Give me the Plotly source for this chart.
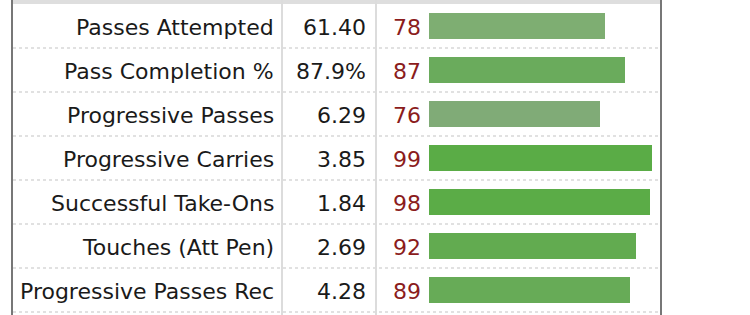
import plotly.graph_objects as go

W, H = 750, 315

stats = ["Passes Attempted", "Pass Completion %", "Progressive Passes",
         "Progressive Carries", "Successful Take-Ons", "Touches (Att Pen)",
         "Progressive Passes Rec"]
per90 = ["61.40", "87.9%", "6.29", "3.85", "1.84", "2.69", "4.28"]
percentile = [78, 87, 76, 99, 98, 92, 89]
bar_colors = ["#7eae72", "#6aab5c", "#80ab77", "#5aac46", "#5bac47", "#62ab50", "#67ab57"]

def px(x):
    return x / W

def py(y):
    return 1 - y / H

top, row_h = 4, 44
bottom = top + row_h * len(stats)

fig = go.Figure()
fig.add_trace(go.Bar(
    x=percentile, y=stats, orientation="h",
    marker=dict(color=bar_colors, line=dict(width=0)),
    width=26 / 44, hoverinfo="skip", showlegend=False,
))

fig.update_xaxes(range=[0, 100], domain=[px(429), px(654.5)], visible=False, fixedrange=True)
fig.update_yaxes(range=[len(stats) - 0.5, -0.5], domain=[py(bottom), py(top)],
                 visible=False, fixedrange=True, type="category",
                 categoryorder="array", categoryarray=stats)

font = "DejaVu Sans, Verdana, sans-serif"
fs = 22
ann = []
for s, v, p in zip(stats, per90, percentile):
    ann.append(dict(x=px(276), y=s, xref="paper", yref="y", text=s, showarrow=False, yshift=-1.5,
                    xanchor="right", yanchor="middle", font=dict(family=font, size=fs, color="#1a1a1a")))
    ann.append(dict(x=px(368), y=s, xref="paper", yref="y", text=v, showarrow=False, yshift=-1.5,
                    xanchor="right", yanchor="middle", font=dict(family=font, size=fs, color="#1a1a1a")))
    ann.append(dict(x=px(423), y=s, xref="paper", yref="y", text=str(p), showarrow=False, yshift=-1.5,
                    xanchor="right", yanchor="middle", font=dict(family=font, size=fs, color="#8b1c1c")))

shapes = []
# top band
shapes.append(dict(type="rect", xref="paper", yref="paper", x0=px(13), x1=px(660), y0=py(top), y1=1,
                   fillcolor="#dedede", line=dict(width=0), layer="below"))
# dotted row separators
for k in range(1, len(stats) + 1):
    yy = top + row_h * k
    shapes.append(dict(type="line", xref="paper", yref="paper", x0=px(13), x1=px(660),
                       y0=py(yy), y1=py(yy), line=dict(color="#d8d8d8", width=1.5, dash="dot")))
# column separators
for xx in (282, 376):
    shapes.append(dict(type="line", xref="paper", yref="paper", x0=px(xx), x1=px(xx), y0=0, y1=1,
                       line=dict(color="#dcdcdc", width=2)))
# borders
for xx in (12, 661):
    shapes.append(dict(type="line", xref="paper", yref="paper", x0=px(xx), x1=px(xx), y0=0, y1=1,
                       line=dict(color="#777777", width=2)))

fig.update_layout(width=W, height=H, margin=dict(l=0, r=0, t=0, b=0),
                  paper_bgcolor="white", plot_bgcolor="white",
                  annotations=ann, shapes=shapes, bargap=0)

fig.write_html("out.html", config={"displayModeBar": False})
